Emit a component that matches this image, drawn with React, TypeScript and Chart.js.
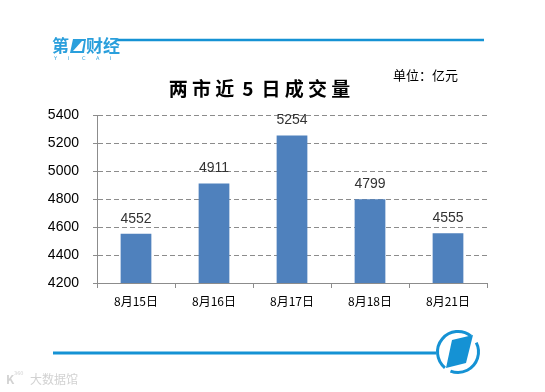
import React, { useEffect, useRef } from "react";
import { Chart, registerables } from "chart.js";

Chart.register(...registerables);

const categories = ["8月15日", "8月16日", "8月17日", "8月18日", "8月21日"];
const turnover = [4552, 4911, 5254, 4799, 4555];
const yMin = 4200;
const yMax = 5400;
const yStep = 200;
const titleText = "两市近5日成交量";
const unitText = "单位：亿元";

const BLUE = "#1592d4";

const decorPlugin = {
  id: "decor",
  beforeDraw(chart: any) {
    const ctx = chart.ctx;
    ctx.save();
    ctx.fillStyle = "#ffffff";
    ctx.fillRect(0, 0, chart.width, chart.height);
    ctx.restore();
  },
  afterDraw(chart: any) {
    const ctx: CanvasRenderingContext2D = chart.ctx;
    ctx.save();
    // top line
    ctx.strokeStyle = BLUE;
    ctx.lineWidth = 2.5;
    ctx.beginPath();
    ctx.moveTo(116, 40);
    ctx.lineTo(484, 40);
    ctx.stroke();
    // logo
    ctx.fillStyle = "#2a9fdc";
    ctx.font = "bold 17px 'Noto Sans CJK SC'";
    ctx.textBaseline = "middle";
    ctx.textAlign = "left";
    ctx.fillText("第", 52, 46);
    ctx.beginPath();
    ctx.moveTo(73, 39);
    ctx.lineTo(86, 39);
    ctx.lineTo(84, 53);
    ctx.lineTo(70, 53);
    ctx.closePath();
    ctx.fill();
    ctx.fillStyle = "#ffffff";
    ctx.beginPath();
    ctx.moveTo(82, 41);
    ctx.lineTo(84, 41);
    ctx.lineTo(82, 51);
    ctx.lineTo(73, 51);
    ctx.closePath();
    ctx.fill();
    ctx.fillStyle = "#2a9fdc";
    ctx.fillText("财经", 86, 46);
    ctx.font = "5px 'DejaVu Sans'";
    const yc = ["Y", "I", "C", "A", "I"];
    yc.forEach((c, i) => ctx.fillText(c, 54 + i * 14, 59));

    // title
    ctx.fillStyle = "#000000";
    ctx.font = "bold 19px 'Noto Sans CJK SC'";
    ctx.textAlign = "center";
    ctx.textBaseline = "middle";
    const chars = Array.from(titleText);
    const step = 23.2;
    const x0 = 259.5 - ((chars.length - 1) * step) / 2;
    chars.forEach((c, i) => ctx.fillText(c, x0 + i * step, 89));

    // unit
    ctx.font = "13px 'Noto Sans CJK SC'";
    ctx.textAlign = "left";
    ctx.fillText(unitText, 393, 75);

    // data labels
    const meta = chart.getDatasetMeta(0);
    ctx.font = "14px 'Liberation Sans'";
    ctx.fillStyle = "#333333";
    ctx.textAlign = "center";
    meta.data.forEach((bar: any, i: number) => {
      ctx.fillText(String(turnover[i]), bar.x, bar.y - 15);
    });

    // bottom line + circle logo
    ctx.strokeStyle = BLUE;
    ctx.lineWidth = 3;
    ctx.beginPath();
    ctx.moveTo(53, 353);
    ctx.lineTo(436, 353);
    ctx.stroke();
    const cx = 458, cy = 352, r = 20.5;
    ctx.lineWidth = 3;
    ctx.beginPath();
    ctx.arc(cx, cy, r, -0.15 * Math.PI, 0.62 * Math.PI);
    ctx.stroke();
    ctx.beginPath();
    ctx.arc(cx, cy, r, 0.72 * Math.PI, 1.72 * Math.PI);
    ctx.stroke();
    ctx.fillStyle = BLUE;
    ctx.beginPath();
    ctx.moveTo(452, 340);
    ctx.lineTo(473, 335);
    ctx.lineTo(466, 363);
    ctx.lineTo(446, 368);
    ctx.closePath();
    ctx.fill();

    // watermark
    ctx.fillStyle = "#d2d2d2";
    ctx.font = "bold 12px 'Noto Sans CJK SC'";
    ctx.textAlign = "left";
    ctx.fillText("K", 6, 379);
    ctx.font = "5px 'DejaVu Sans'";
    ctx.fillText("360", 14, 374);
    ctx.font = "12px 'Noto Sans CJK SC'";
    ctx.fillText("大数据馆", 30, 379);
    ctx.restore();
  },
};

export default function App() {
  const ref = useRef<HTMLCanvasElement | null>(null);
  useEffect(() => {
    if (!ref.current) return;
    const chart = new Chart(ref.current, {
      type: "bar",
      data: {
        labels: categories,
        datasets: [
          {
            data: turnover,
            backgroundColor: "#4f81bd",
            categoryPercentage: 1,
            barPercentage: 0.394,
          },
        ],
      },
      options: {
        animation: false,
        responsive: false,
        layout: { padding: { top: 115, right: 58, left: 0, bottom: 0 } },
        plugins: {
          legend: { display: false },
          tooltip: { enabled: false },
          title: { display: false },
        },
        scales: {
          x: {
            afterFit: (s: any) => {
              s.height = 392 - 283;
            },
            grid: {
              drawOnChartArea: false,
              drawTicks: true,
              tickLength: 5,
              color: "#8c8c8c",
              offset: true,
            },
            border: { color: "#8c8c8c", width: 1 },
            ticks: {
              color: "#000000",
              font: { family: "'Noto Sans CJK SC'", size: 12 },
              padding: 6,
            },
          },
          y: {
            min: yMin,
            max: yMax,
            afterFit: (s: any) => {
              s.width = 97;
            },
            grid: {
              color: "#8c8c8c",
              tickBorderDash: [],
              tickLength: 4,
              drawTicks: true,
            },
            border: { color: "#8c8c8c", width: 1, dash: [5, 3] },
            ticks: {
              stepSize: yStep,
              color: "#000000",
              font: { family: "'Liberation Sans'", size: 14 },
              padding: 14,
              callback: (v: any) => String(v),
            },
          },
        },
      },
      plugins: [decorPlugin],
    });
    return () => chart.destroy();
  }, []);
  return (
    <div style={{ position: "fixed", left: 0, top: 0, width: 545, height: 392, background: "#fff" }}>
      <canvas ref={ref} width={545} height={392} style={{ width: 545, height: 392 }} />
    </div>
  );
}
